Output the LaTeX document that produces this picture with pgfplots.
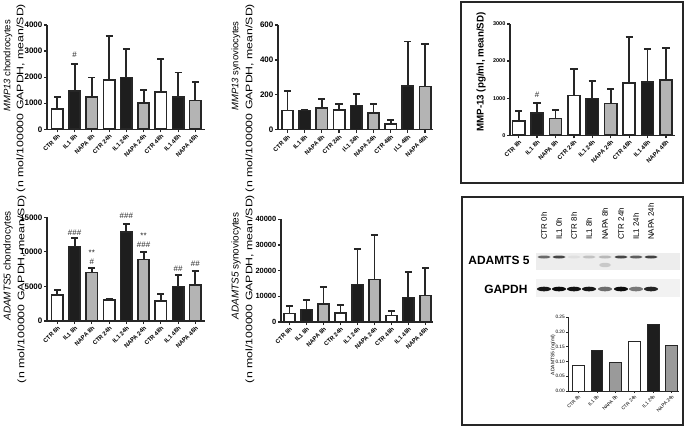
\documentclass[border=0pt]{standalone}
\usepackage{pgfplots}
\pgfplotsset{compat=1.18}
\usepackage{fontspec}
\setmainfont{Liberation Sans}
\newfontfamily\lblfont[FakeStretch=1.3]{Liberation Sans}
\definecolor{barblack}{HTML}{1E1E1E}
\definecolor{bargray}{HTML}{B4B4B4}
\definecolor{bargrayB}{HTML}{9A9A9A}
\definecolor{linec}{HTML}{262626}

\tikzset{annot/.style={font=\fontsize{8}{9}\selectfont, text=linec, inner sep=0pt}}
\pgfplotsset{
  ebar/.style={error bars/y dir=plus, error bars/y explicit,
    error bars/error mark=-,
    error bars/error bar style={line width=1.8bp, draw=linec},
    error bars/error mark options={rotate=90, line width=1.8bp, draw=linec, mark size=3.6bp}},
  ctr/.style={ebar, fill=white, draw=linec, line width=1.6bp},
  il/.style={ebar, fill=barblack, draw=linec, line width=1.6bp},
  napa/.style={ebar, fill=bargray, draw=linec, line width=1.6bp},
  prism/.style={
    scale only axis,
    anchor=south west,
    axis lines=left,
    axis line style={-, line width=1.5bp, linec},
    ybar, bar width=0.66, bar shift=0pt,
    enlargelimits=false,
    tick align=outside,
    major tick length=3bp,
    tick style={line width=1.2bp, linec},
    xtick={0,...,8},
    xticklabels={CTR 8h, IL1 8h, NAPA 8h, CTR 24h, IL1 24h, NAPA 24h, CTR 48h, IL1 48h, NAPA 48h},
    x tick label style={rotate=45, anchor=north east, font=\bfseries\fontsize{6}{7}\selectfont, inner sep=1bp},
    y tick label style={font=\bfseries\fontsize{8}{9}\selectfont, inner sep=1.5bp},
    /pgf/number format/assume math mode=true,
    /pgf/number format/1000 sep={},
    scaled y ticks=false,
    ymin=0, clip=false,
  },
}

\begin{document}
\begin{tikzpicture}[x=1bp, y=1bp]
\useasboundingbox (0,0) rectangle (685,428);

% ---------- Panel 1: MMP13 chondrocytes ----------
\begin{axis}[prism, at={(47bp,298.7bp)}, width=158bp, height=104.3bp,
  xmin=-0.6, xmax=8.56, ymax=4000, ytick={0,1000,2000,3000,4000}]
\addplot[ctr] coordinates {(0,770) +- (0,470) (3,1890) +- (0,1700) (6,1420) +- (0,1290)};
\addplot[il] coordinates {(1,1480) +- (0,1020) (4,1980) +- (0,1110) (7,1250) +- (0,930)};
\addplot[napa] coordinates {(2,1250) +- (0,740) (5,1020) +- (0,490) (8,1100) +- (0,710)};
\node[annot] at (axis cs:1,2850) {\#};
\end{axis}
\node[rotate=90, font=\fontsize{9.5}{11}\selectfont] at (8,362) {\textit{MMP13} chondrocytes};
\node[rotate=90, font=\lblfont\fontsize{9.5}{11}\selectfont] at (21,330) {(n mol/100000 GAPDH, mean/SD)};

% ---------- Panel 2: MMP13 synoviocytes ----------
\begin{axis}[prism, at={(278bp,298.3bp)}, width=155.3bp, height=104.7bp,
  xmin=-0.55, xmax=8.48, ymax=600, ytick={0,200,400,600}]
\addplot[ctr] coordinates {(0,111) +- (0,111) (3,113) +- (0,34) (6,34) +- (0,23)};
\addplot[il] coordinates {(1,111) +- (0,4) (4,138) +- (0,66) (7,252) +- (0,254)};
\addplot[napa] coordinates {(2,124) +- (0,50) (5,94) +- (0,53) (8,248) +- (0,241)};
\end{axis}
\node[rotate=90, font=\fontsize{9.5}{11}\selectfont] at (236,362) {\textit{MMP13} synoviocytes};
\node[rotate=90, font=\lblfont\fontsize{9.5}{11}\selectfont] at (250,330) {(n mol/100000 GAPDH, mean/SD)};

% ---------- Panel 3: MMP-13 protein ----------
\draw[line width=2.5bp, linec] (461,426) rectangle (683,245);
\begin{axis}[prism, at={(510bp,292.7bp)}, width=165bp, height=111.3bp,
  xmin=-0.47, xmax=8.49, ymax=3000, ytick={0,1000,2000,3000},
  y tick label style={font=\bfseries\fontsize{5.5}{6}\selectfont, inner sep=1.5bp}]
\addplot[ctr] coordinates {(0,386) +- (0,270) (3,1069) +- (0,710) (6,1411) +- (0,1239)};
\addplot[il] coordinates {(1,593) +- (0,269) (4,988) +- (0,476) (7,1438) +- (0,898)};
\addplot[napa] coordinates {(2,449) +- (0,243) (5,854) +- (0,395) (8,1491) +- (0,863)};
\node[annot] at (axis cs:1,1087) {\#};
\end{axis}
\node[rotate=90, font=\bfseries\fontsize{9.8}{11}\selectfont] at (481,356) {MMP-13 (pg/ml, mean/SD)};

% ---------- Panel 4: ADAMTS5 chondrocytes ----------
\begin{axis}[prism, at={(47bp,107bp)}, width=158bp, height=103.7bp,
  xmin=-0.6, xmax=8.56, ymax=15000, ytick={0,5000,10000,15000}]
\addplot[ctr] coordinates {(0,3761) +- (0,723) (3,3038) +- (0,96) (6,2893) +- (0,964)};
\addplot[il] coordinates {(1,10752) +- (0,1254) (4,12874) +- (0,1109) (7,4966) +- (0,1688)};
\addplot[napa] coordinates {(2,7040) +- (0,578) (5,8872) +- (0,1157) (8,5207) +- (0,2074)};
\node[annot] at (axis cs:1,12777) {\#\#\#};
\node[annot] at (axis cs:2,9884) {**};
\node[annot] at (axis cs:2,8582) {\#};
\node[annot] at (axis cs:4,15188) {\#\#\#};
\node[annot] at (axis cs:5,12295) {**};
\node[annot] at (axis cs:5,11090) {\#\#\#};
\node[annot] at (axis cs:7,7570) {\#\#};
\node[annot] at (axis cs:8,8245) {\#\#};
\end{axis}
\node[rotate=90, font=\fontsize{10}{11}\selectfont] at (8,162) {\textit{ADAMTS5} chondrocytes};
\node[rotate=90, font=\lblfont\fontsize{9.5}{11}\selectfont] at (22,139) {(n mol/100000 GAPDH, mean/SD)};

% ---------- Panel 5: ADAMTS5 synoviocytes ----------
\begin{axis}[prism, at={(281bp,106bp)}, width=152bp, height=102.7bp,
  xmin=-0.5, xmax=8.45, ymax=40000, ytick={0,10000,20000,30000,40000},
  y tick label style={font=\bfseries\fontsize{7.5}{8}\selectfont, inner sep=1.5bp}]
\addplot[ctr] coordinates {(0,3377) +- (0,2987) (3,3506) +- (0,3117) (6,2468) +- (0,1688)};
\addplot[il] coordinates {(1,4935) +- (0,3507) (4,14675) +- (0,13637) (7,9481) +- (0,9870)};
\addplot[napa] coordinates {(2,7013) +- (0,6493) (5,16494) +- (0,17532) (8,10260) +- (0,10909)};
\end{axis}
\node[rotate=90, font=\fontsize{10}{11}\selectfont] at (236,162) {\textit{ADAMTS5} synoviocytes};
\node[rotate=90, font=\lblfont\fontsize{9.5}{11}\selectfont] at (250,139) {(n mol/100000 GAPDH, mean/SD)};

% ---------- Panel 6: western blot + ADAMTS5 ng/ml ----------
\draw[line width=2.5bp, linec] (462,231) rectangle (683,3);
\foreach \x/\t in {544/CTR 0h, 559/IL1 0h, 574/CTR 8h, 589/IL1 8h, 605/NAPA 8h, 621/CTR 24h, 636/IL1 24h, 651/NAPA 24h}
  \node[rotate=90, anchor=west, font=\fontsize{8}{9}\selectfont, inner sep=0pt] at (\x,188) {\t};
\fill[gray!14] (536,158) rectangle (680,175);
\fill[gray!10] (536,131) rectangle (680,149);
\foreach \x/\o in {544/0.55, 559/0.7, 574/0.06, 589/0.18, 605/0.22, 621/0.7, 636/0.6, 651/0.72}
  \fill[black, opacity=\o] (\x,171) ellipse (6.5 and 1.5);
\fill[black, opacity=0.15] (605,163) ellipse (6 and 2.2);
\foreach \x/\o in {544/0.9, 559/0.95, 574/0.92, 589/0.9, 605/0.55, 621/0.95, 636/0.5, 651/0.85}
  \fill[black, opacity=\o] (\x,139) ellipse (7 and 2.3);
\node[anchor=east, font=\bfseries\fontsize{12}{14}\selectfont] at (533,168) {ADAMTS 5};
\node[anchor=east, font=\bfseries\fontsize{12}{14}\selectfont] at (531,139) {GAPDH};

\begin{axis}[prism, at={(568bp,37bp)}, width=111bp, height=73.7bp,
  xmin=-0.55, xmax=5.39, ymax=0.25, ytick={0,0.05,0.10,0.15,0.20,0.25},
  bar width=0.64,
  axis line style={-, line width=0.9bp, linec},
  major tick length=2bp, tick style={line width=0.7bp, linec},
  xtick={0,...,5},
  xticklabels={CTR 8h, IL1 8h, NAPA 8h, CTR 24h, IL1 24h, NAPA 24h},
  x tick label style={font=\fontsize{4.8}{5}\selectfont},
  y tick label style={font=\fontsize{4.8}{5}\selectfont, inner sep=1bp,
    /pgf/number format/fixed, /pgf/number format/fixed zerofill, /pgf/number format/precision=2}]
\addplot[fill=white, draw=linec, line width=1bp] coordinates {(0,0.086) (3,0.169)};
\addplot[fill=barblack, draw=linec, line width=1bp] coordinates {(1,0.137) (4,0.224)};
\addplot[fill=bargrayB, draw=linec, line width=1bp] coordinates {(2,0.098) (5,0.154)};
\end{axis}
\node[rotate=90, font=\fontsize{5}{6}\selectfont] at (553,73) {ADAMTS5 (ng/ml)};
\end{tikzpicture}
\end{document}
